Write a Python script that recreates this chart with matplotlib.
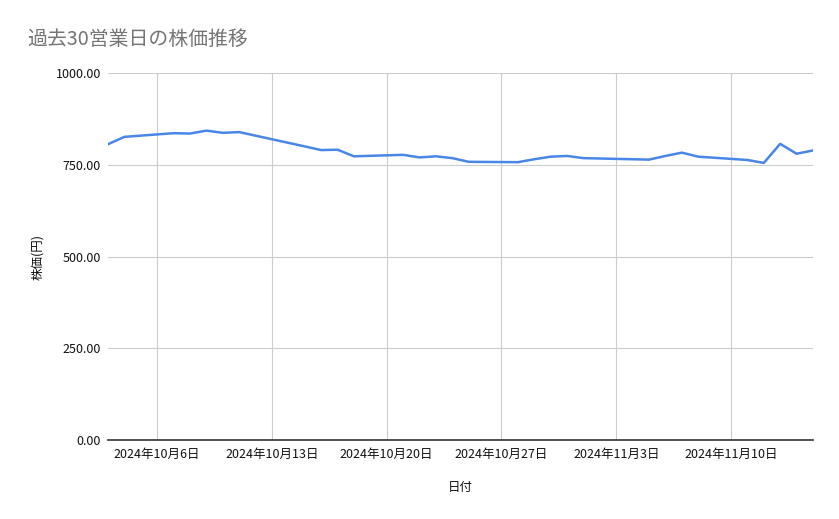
import matplotlib.pyplot as plt
import pandas as pd

plt.rcParams['font.family'] = ['Noto Sans CJK JP', 'DejaVu Sans']

dates = ['2024-10-03', '2024-10-04', '2024-10-07', '2024-10-08', '2024-10-09',
         '2024-10-10', '2024-10-11', '2024-10-15', '2024-10-16', '2024-10-17',
         '2024-10-18', '2024-10-21', '2024-10-22', '2024-10-23', '2024-10-24',
         '2024-10-25', '2024-10-28', '2024-10-29', '2024-10-30', '2024-10-31',
         '2024-11-01', '2024-11-05', '2024-11-06', '2024-11-07', '2024-11-08',
         '2024-11-11', '2024-11-12', '2024-11-13', '2024-11-14', '2024-11-15']
prices = [806, 826, 836, 835, 843, 837, 839, 800, 790, 791,
          773, 777, 770, 773, 768, 758, 757, 765, 772, 774,
          768, 764, 774, 783, 772, 763, 755, 807, 780, 789]
y_ticks = [0, 250, 500, 750, 1000]
x_ticks = ['2024-10-06', '2024-10-13', '2024-10-20', '2024-10-27', '2024-11-03', '2024-11-10']

x = pd.to_datetime(dates)
xt = pd.to_datetime(x_ticks)

fig = plt.figure(figsize=(8.39, 5.19), dpi=100)
ax = fig.add_axes([108 / 839, 1 - 440 / 519, 705 / 839, 367 / 519])

ax.plot(x, prices, color='#4a86e8', linewidth=1.8)

ax.set_ylim(0, 1000)
ax.set_xlim(x[0], x[-1])
ax.set_yticks(y_ticks)
ax.set_yticklabels([f'{v:.2f}' for v in y_ticks])
ax.set_xticks(xt)
ax.set_xticklabels([f'{d.year}年{d.month}月{d.day}日' for d in xt])

ax.grid(True, color='#cccccc', linewidth=0.8)
ax.set_axisbelow(True)
for s in ['top', 'right', 'left']:
    ax.spines[s].set_visible(False)
ax.spines['bottom'].set_color('#333333')
ax.spines['bottom'].set_linewidth(1.2)
ax.tick_params(axis='both', length=0, labelsize=9, colors='#111111')
ax.tick_params(axis='x', pad=6)
ax.tick_params(axis='y', pad=5)

ax.set_xlabel('日付', fontsize=9, color='#111111', labelpad=14)
ax.set_ylabel('株価(円)', fontsize=9, color='#111111', labelpad=8)

fig.text(27 / 839, 1 - 39 / 519, '過去30営業日の株価推移', fontsize=14.3,
         color='#757575', va='center', ha='left')

fig.savefig('out.png', dpi=100)
